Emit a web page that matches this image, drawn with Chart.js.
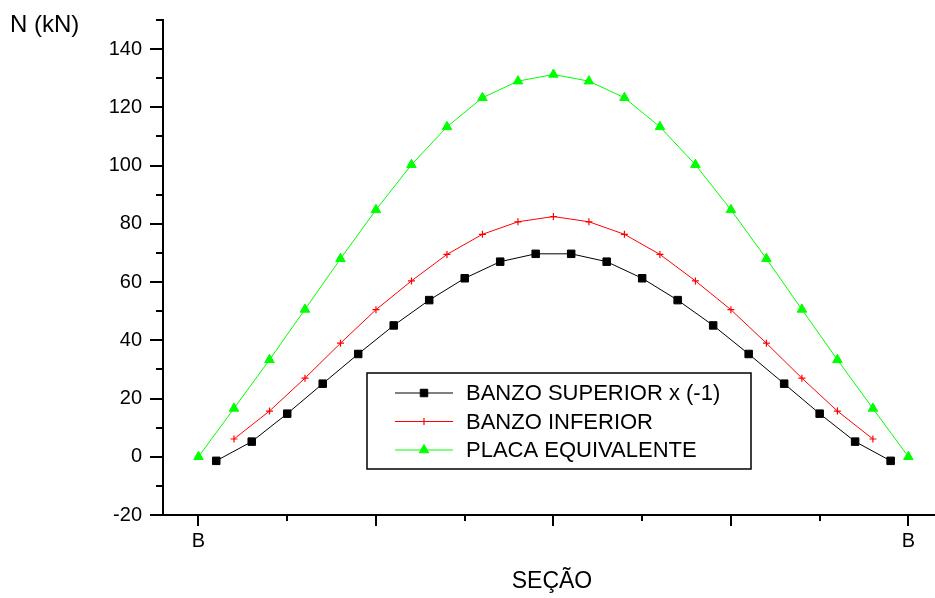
<!DOCTYPE html>
<html>
<head>
<meta charset="utf-8">
<title>Esforço normal por seção</title>
<script src="https://cdn.jsdelivr.net/npm/chart.js@4.4.1/dist/chart.umd.min.js"></script>
<style>
    html, body { margin: 0; padding: 0; background: #fff; }
    #wrap { width: 935px; height: 598px; }
</style>
</head>
<body>
<div id="wrap"><canvas id="chart" width="935" height="598"></canvas></div>
<script>
// Section positions (B to B) and normal force values in kN
const posSuperior = [0.5, 1.5, 2.5, 3.5, 4.5, 5.5, 6.5, 7.5, 8.5, 9.5, 10.5, 11.5, 12.5, 13.5, 14.5, 15.5, 16.5, 17.5, 18.5, 19.5];
const banzoSuperior = [-1.4, 5.2, 14.8, 25.1, 35.3, 45.1, 53.8, 61.3, 67.0, 69.7, 69.7, 67.0, 61.3, 53.8, 45.1, 35.3, 25.1, 14.8, 5.2, -1.4];

const posInferior = [1, 2, 3, 4, 5, 6, 7, 8, 9, 10, 11, 12, 13, 14, 15, 16, 17, 18, 19];
const banzoInferior = [6.1, 15.7, 27.0, 39.0, 50.5, 60.4, 69.5, 76.4, 80.7, 82.5, 80.7, 76.4, 69.5, 60.4, 50.5, 39.0, 27.0, 15.7, 6.1];

const posPlaca = [0, 1, 2, 3, 4, 5, 6, 7, 8, 9, 10, 11, 12, 13, 14, 15, 16, 17, 18, 19, 20];
const placaEquivalente = [0, 16.6, 33.3, 50.6, 68.0, 84.8, 100.3, 113.3, 123.3, 129.0, 131.3, 129.0, 123.3, 113.3, 100.3, 84.8, 68.0, 50.6, 33.3, 16.6, 0];

// axis ticks
const xTicks = [0, 5, 10, 15, 20];
const xTickLabels = ['B', '', '', '', 'B'];
const xMinorTicks = [2.5, 7.5, 12.5, 17.5];
const yTicks = [-20, 0, 20, 40, 60, 80, 100, 120, 140];
const yMinorTicks = [-10, 10, 30, 50, 70, 90, 110, 130, 150];

const FONT = "'Liberation Sans', Arial, sans-serif";

function toPoints(xs, ys) {
    return xs.map((x, i) => ({ x: x, y: ys[i] }));
}

// short minor tick marks on both axes
const minorTicks = {
    id: 'minorTicks',
    afterDraw(chart) {
        const { ctx, chartArea, scales } = chart;
        ctx.save();
        ctx.strokeStyle = '#000';
        ctx.lineWidth = 2;
        ctx.beginPath();
        xMinorTicks.forEach(v => {
            const px = Math.round(scales.x.getPixelForValue(v));
            ctx.moveTo(px, chartArea.bottom);
            ctx.lineTo(px, chartArea.bottom + 6);
        });
        yMinorTicks.forEach(v => {
            const py = Math.round(scales.y.getPixelForValue(v));
            ctx.moveTo(chartArea.left - 7, py);
            ctx.lineTo(chartArea.left, py);
        });
        ctx.stroke();
        ctx.restore();
    }
};

// axis captions: unit at top left, section name under the x axis
const captions = {
    id: 'captions',
    afterDraw(chart) {
        const ctx = chart.ctx;
        ctx.save();
        ctx.fillStyle = '#000';
        ctx.textBaseline = 'middle';
        ctx.textAlign = 'left';
        ctx.font = '24px ' + FONT;
        ctx.fillText('N (kN)', 10, 25);
        ctx.textAlign = 'center';
        ctx.font = '23px ' + FONT;
        ctx.fillText('SEÇÃO', 552, 582);
        ctx.restore();
    }
};

// boxed legend inside the plot
const boxLegend = {
    id: 'boxLegend',
    afterDraw(chart) {
        const ctx = chart.ctx;
        const box = { left: 367, top: 373, width: 384, height: 96 };
        ctx.save();
        ctx.strokeStyle = '#000';
        ctx.lineWidth = 1.5;
        ctx.strokeRect(box.left, box.top, box.width, box.height);
        chart.data.datasets.forEach((ds, i) => {
            const y = box.top + 20 + i * 28.5;
            ctx.strokeStyle = ds.borderColor;
            ctx.lineWidth = 1;
            ctx.beginPath();
            ctx.moveTo(box.left + 28, y);
            ctx.lineTo(box.left + 86, y);
            ctx.stroke();
            ctx.fillStyle = ds.pointBackgroundColor;
            ctx.strokeStyle = ds.pointBorderColor;
            ctx.lineWidth = ds.pointBorderWidth;
            Chart.helpers.drawPoint(ctx, {
                pointStyle: ds.pointStyle,
                radius: ds.pointRadius,
                borderWidth: ds.pointBorderWidth,
                rotation: 0
            }, box.left + 57, y);
            ctx.fillStyle = '#000';
            ctx.font = '22px ' + FONT;
            ctx.textAlign = 'left';
            ctx.textBaseline = 'middle';
            ctx.fillText(ds.label, box.left + 99, y + 1);
        });
        ctx.restore();
    }
};

new Chart(document.getElementById('chart'), {
    type: 'line',
    data: {
        datasets: [
            {
                label: 'BANZO SUPERIOR x (-1)',
                data: toPoints(posSuperior, banzoSuperior),
                borderColor: '#000000',
                borderWidth: 1,
                pointStyle: 'rect',
                pointRadius: 5.3,
                pointBackgroundColor: '#000000',
                pointBorderColor: '#000000',
                pointBorderWidth: 1
            },
            {
                label: 'BANZO INFERIOR',
                data: toPoints(posInferior, banzoInferior),
                borderColor: '#ff0000',
                borderWidth: 1,
                pointStyle: 'cross',
                pointRadius: 3.5,
                pointBackgroundColor: '#ff0000',
                pointBorderColor: '#ff0000',
                pointBorderWidth: 1.2
            },
            {
                label: 'PLACA EQUIVALENTE',
                data: toPoints(posPlaca, placaEquivalente),
                borderColor: '#00ff00',
                borderWidth: 1,
                pointStyle: 'triangle',
                pointRadius: 5.5,
                pointBackgroundColor: '#00ff00',
                pointBorderColor: '#00ff00',
                pointBorderWidth: 1
            }
        ]
    },
    options: {
        responsive: false,
        animation: false,
        devicePixelRatio: 1,
        clip: false,
        layout: { autoPadding: false, padding: { left: 0, top: 18, right: 0, bottom: 0 } },
        plugins: {
            legend: { display: false },
            tooltip: { enabled: false },
            title: { display: false }
        },
        scales: {
            x: {
                type: 'linear',
                min: -1,
                max: 20.75,
                afterFit(scale) {
                    scale.height = 83;
                    scale.paddingLeft = 0;
                    scale.paddingRight = 0;
                },
                afterBuildTicks(scale) { scale.ticks = xTicks.map(v => ({ value: v })); },
                border: { display: true, color: '#000', width: 2 },
                grid: { drawOnChartArea: false, color: '#000', lineWidth: 2, tickLength: 11 },
                ticks: {
                    color: '#000',
                    padding: 3,
                    maxRotation: 0,
                    autoSkip: false,
                    font: { family: FONT, size: 20 },
                    callback: (value) => {
                        const i = xTicks.indexOf(value);
                        return i >= 0 ? xTickLabels[i] : '';
                    }
                }
            },
            y: {
                type: 'linear',
                min: -20,
                max: 150,
                afterFit(scale) { scale.width = 163; },
                afterBuildTicks(scale) { scale.ticks = yTicks.map(v => ({ value: v })); },
                border: { display: true, color: '#000', width: 2 },
                grid: { drawOnChartArea: false, color: '#000', lineWidth: 2, tickLength: 13 },
                ticks: {
                    color: '#000',
                    padding: 8,
                    autoSkip: false,
                    font: { family: FONT, size: 20 }
                }
            }
        }
    },
    plugins: [minorTicks, captions, boxLegend]
});
</script>
</body>
</html>
